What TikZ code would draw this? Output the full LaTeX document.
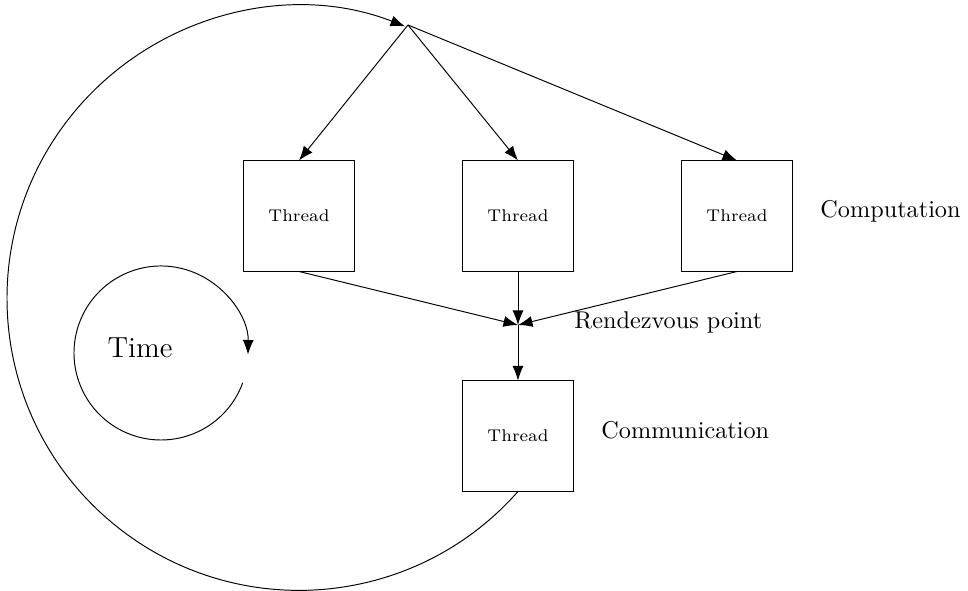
\documentclass[tikz,border=0pt]{standalone}
\usepackage{tikz}
\usetikzlibrary{positioning}
\usetikzlibrary{arrows.meta}

\tikzset{
  thread/.style={draw, minimum size=1.595cm, inner sep=0pt, font=\scriptsize},
  flow/.style={-{Latex[length=2.1mm, width=1.6mm]}},
  lbl/.style={right, inner sep=0pt}
}

\begin{document}
\begin{tikzpicture}[x=0.0145cm, y=0.0145cm]

\useasboundingbox (0,0) rectangle (968,591);

% threads
\node[thread] (compA) at (299,375) {Thread};
\node[thread] (compB) at (518,375) {Thread};
\node[thread] (compC) at (737,375) {Thread};
\node[thread] (comm) at (518,155) {Thread};

\coordinate (fork) at (408,566);
\coordinate (rdv) at (518,266);

% fork to computation
\draw[flow] (fork)--(compA.north);
\draw[flow] (fork)--(compB.north);
\draw[flow] (fork)--(compC.north);

% join at rendezvous point
\draw[flow] (compA.south)--(rdv);
\draw[flow] (compB.south)--(rdv);
\draw[flow] (compC.south)--(rdv);
\draw[flow] (rdv)--(comm.north);

% loop back
\draw[flow] (comm.south) arc[start angle=-41.4, end angle=-291.3, radius=292];

% time
\coordinate (tc) at (161,238);
\draw[flow] ([shift={(-20:87)}]tc) arc[start angle=-20, end angle=-361, radius=87];
\node[font=\large] (time) at (140,243) {Time};

\node[lbl] (lcomp) at (820,380) {Computation};
\node[lbl] (lrdv) at (574,269) {Rendezvous point};
\node[lbl] (lcomm) at (601,161) {Communication};

\end{tikzpicture}
\end{document}
